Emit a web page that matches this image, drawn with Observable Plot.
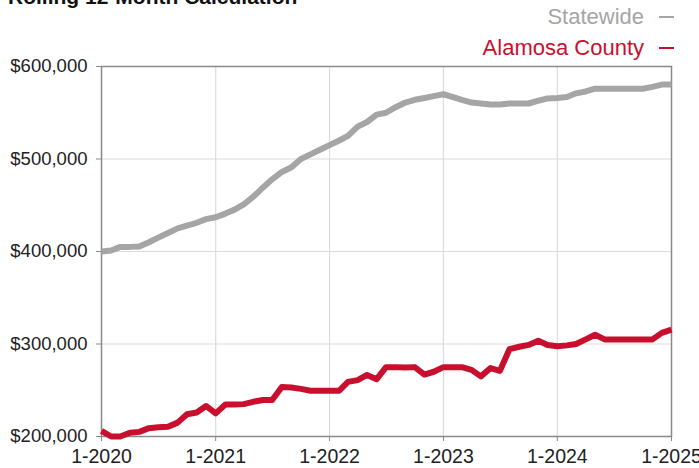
<!DOCTYPE html>
<html><head><meta charset="utf-8">
<script src="https://cdn.jsdelivr.net/npm/d3@7"></script>
<script src="https://cdn.jsdelivr.net/npm/@observablehq/plot@0.6"></script>
<style>
body{margin:0;background:#fff;font-family:"Liberation Sans",Arial,Helvetica,sans-serif;}
#wrap{position:relative;width:699px;height:468px;overflow:hidden;}
.t{position:absolute;white-space:nowrap;line-height:22px;}
#chart{position:absolute;left:0;top:0;}
</style></head><body>
<div id="wrap">
<div id="chart"></div>
<div class="t" id="title" style="left:8px;top:-14px;font-size:21px;font-weight:bold;color:#111;line-height:21px;">Rolling 12-Month Calculation</div>
<div id="legend"></div>
</div>
<script>
// ---- data ----
const startYear = 2020;
const statewide = [400000,401000,405000,405000,405500,410000,415000,420000,425000,428000,431000,435000,
  437000,441000,445000,451000,459000,469000,478000,486000,491000,500000,505000,510000,
  515000,520000,525000,535000,540000,548000,550000,556000,561000,564000,566000,568000,
  570000,567000,564000,561000,560000,559000,559000,560000,560000,560000,563000,565500,
  566000,567000,571000,573000,576000,576000,576000,576000,576000,576000,578000,580500,
  580500];
const alamosa = [206000,200000,200000,204000,205000,209000,210000,210500,215000,224000,226000,233000,
  225000,234500,234500,235000,237500,239500,239500,253500,253000,251500,249500,249500,
  249500,249500,259000,261000,266500,262000,275000,275000,274500,275000,267000,270000,
  275000,275000,275000,272000,265000,274000,271000,294500,297000,299000,303500,299000,
  297500,298500,300000,305000,310000,305000,305000,305000,305000,305000,305000,312000,
  315500];
const seriesNames = ["Statewide", "Alamosa County"];
const seriesColors = ["#a5a5a5", "#c8102e"];
const xTickYears = [2020, 2021, 2022, 2023, 2024, 2025];
const xTickLabels = ["1-2020", "1-2021", "1-2022", "1-2023", "1-2024", "1-2025"];
const yTicks = [200000, 300000, 400000, 500000, 600000];
const yTickLabels = ["$200,000", "$300,000", "$400,000", "$500,000", "$600,000"];

// ---- build ----
const start = new Date(Date.UTC(startYear, 0, 1));
const monthDate = i => d3.utcMonth.offset(start, i);
const rows = [];
[statewide, alamosa].forEach((vals, s) => vals.forEach((v, i) => rows.push({date: monthDate(i), value: v, series: seriesNames[s]})));
const xTickDates = xTickYears.map(y => new Date(Date.UTC(y, 0, 1)));
const font = '"Liberation Sans", Arial, Helvetica, sans-serif';

const chart = Plot.plot({
  width: 699, height: 468,
  marginLeft: 101, marginRight: 28, marginTop: 66, marginBottom: 32,
  style: {fontFamily: font, background: "transparent", overflow: "visible", color: "#222"},
  x: {type: "utc", domain: [xTickDates[0], xTickDates[xTickDates.length - 1]]},
  y: {domain: [yTicks[0], yTicks[yTicks.length - 1]]},
  color: {domain: seriesNames, range: seriesColors},
  marks: [
    Plot.gridX(xTickDates, {stroke: "#dcdcdc", strokeOpacity: 1, strokeWidth: 1.2}),
    Plot.gridY(yTicks, {stroke: "#dcdcdc", strokeOpacity: 1, strokeWidth: 1.2}),
    Plot.frame({stroke: "#8a8a8a", strokeWidth: 1.5}),
    Plot.axisX(xTickDates, {tickSize: 5, tickPadding: 8, stroke: "#8a8a8a", fill: "#222", fontSize: 19.5,
      tickFormat: d => xTickLabels[xTickYears.indexOf(d.getUTCFullYear())], label: null}),
    Plot.axisY(yTicks, {tickSize: 5, tickPadding: 9, stroke: "#8a8a8a", fill: "#222", fontSize: 18.5,
      tickFormat: d => yTickLabels[yTicks.indexOf(d)], label: null}),
    Plot.line(rows, {x: "date", y: "value", z: "series", stroke: "series", strokeWidth: 6,
      strokeLinejoin: "round", strokeLinecap: "butt"})
  ]
});
document.getElementById("chart").appendChild(chart);

// legend
const legend = document.getElementById("legend");
seriesNames.forEach((name, i) => {
  const top = [6, 37][i];
  const t = document.createElement("div");
  t.className = "t";
  t.textContent = name;
  t.style.cssText = `right:55px;top:${top}px;font-size:22px;color:${seriesColors[i]};`;
  legend.appendChild(t);
  const dash = document.createElement("div");
  dash.style.cssText = `position:absolute;left:659px;top:${top + 10}px;width:15px;height:2px;background:${seriesColors[i]};`;
  legend.appendChild(dash);
});
</script>
</body></html>
